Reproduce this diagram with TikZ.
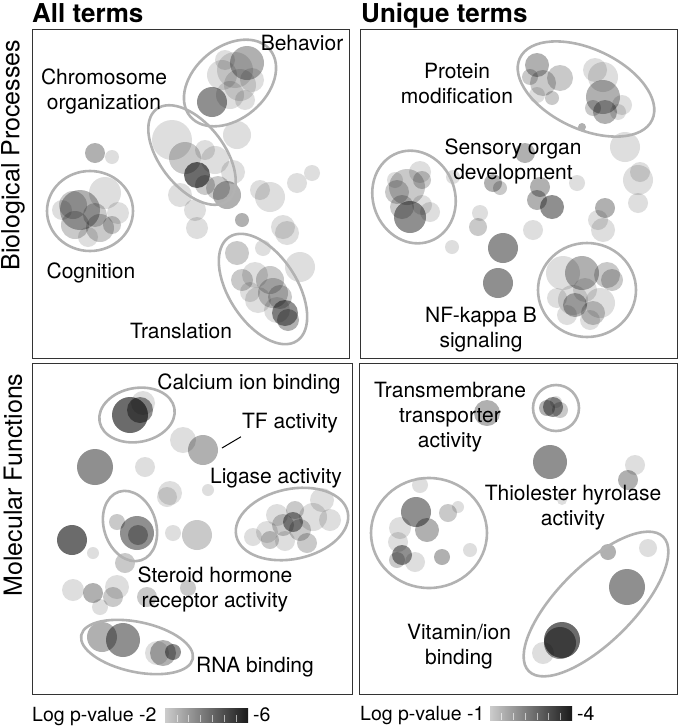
\documentclass[tikz,border=0pt]{standalone}
\usepackage{fontspec}
\setmainfont{TeX Gyre Heros}
\begin{document}
\begin{tikzpicture}[x=1pt,y=-1pt,
  Lone/.style={fill=black,fill opacity=.13},
  Ltwo/.style={fill=black,fill opacity=.21},
  Lthree/.style={fill=black,fill opacity=.31},
  Lfour/.style={fill=black,fill opacity=.44},
  Lfive/.style={fill=black,fill opacity=.58},
  ell/.style={draw=black!30,line width=2.6pt},
  panel/.style={draw=black!80,line width=1pt},
  lbl/.style={font=\fontsize{21}{25}\selectfont,inner sep=0pt,align=center},
  ttl/.style={font=\fontsize{26}{30}\selectfont\bfseries,inner sep=0pt,anchor=base west},
  row/.style={font=\fontsize{25}{30}\selectfont,inner sep=0pt,rotate=90},
  leg/.style={font=\fontsize{19.5}{24}\selectfont,inner sep=0pt,anchor=base west}]
\newcommand\bub[4]{\fill[#4] (#1,#2) circle[radius=#3pt];}
\useasboundingbox (0,0) rectangle (680,726);
% ---------------- Panel TL ----------------
% Behavior
\bub{247}{63}{17}{Lthree}\bub{235}{70}{18}{Lone}\bub{222}{75}{15}{Lone}
\bub{240}{85}{16}{Lone}\bub{252}{80}{12}{Lone}\bub{230}{95}{14}{Lone}
\bub{212}{102}{15}{Lfour}\bub{245}{100}{10}{Lone}\bub{225}{60}{10}{Lone}
% Chromosome
\bub{172}{140}{20}{Lone}\bub{185}{158}{16}{Ltwo}\bub{197}{175}{13}{Lfive}
\bub{215}{160}{14}{Lone}\bub{205}{150}{10}{Lone}\bub{227}{195}{14}{Lthree}
\bub{218}{188}{12}{Ltwo}\bub{205}{185}{10}{Ltwo}\bub{180}{195}{12}{Lone}
\bub{195}{210}{11}{Lone}\bub{197}{228}{11}{Lone}
\bub{237}{135}{14}{Lone}\bub{233}{172}{12}{Lone}
\bub{270}{197}{15}{Lone}\bub{260}{190}{10}{Lone}\bub{297}{183}{10}{Lone}
\bub{312}{173}{8}{Lone}\bub{242}{220}{7}{Lthree}\bub{283}{227}{12}{Lone}
% Cognition
\bub{95}{153}{10}{Lthree}\bub{112}{157}{7}{Lone}
\bub{80}{210}{20}{Lthree}\bub{73}{205}{14}{Ltwo}\bub{105}{193}{16}{Lone}
\bub{75}{225}{14}{Ltwo}\bub{100}{228}{14}{Ltwo}\bub{95}{215}{12}{Ltwo}
\bub{118}{213}{11}{Lone}\bub{62}{210}{10}{Lone}\bub{88}{237}{10}{Lone}
\bub{112}{225}{9}{Ltwo}
% Translation
\bub{237}{253}{12}{Ltwo}\bub{263}{248}{8}{Lone}\bub{300}{267}{15}{Lone}
\bub{287}{233}{12}{Lone}\bub{242}{280}{11}{Ltwo}\bub{255}{275}{13}{Lone}
\bub{270}{280}{14}{Ltwo}\bub{273}{293}{15}{Ltwo}\bub{258}{300}{13}{Lone}
\bub{285}{313}{13}{Lfour}\bub{288}{320}{11}{Lthree}\bub{277}{310}{13}{Lone}
\bub{250}{292}{10}{Lone}\bub{280}{297}{12}{Ltwo}
\draw[ell,rotate around={40:(230,83)}] (230,83) ellipse[x radius=52pt,y radius=36pt];
\draw[ell,rotate around={-52:(192,155)}] (192,155) ellipse[x radius=58pt,y radius=32pt];
\draw[ell] (90,211) ellipse[x radius=43pt,y radius=40pt];
\draw[ell,rotate around={-57:(263,289)}] (263,289) ellipse[x radius=62pt,y radius=34pt];
% ---------------- Panel TR ----------------
\bub{537}{65}{12}{Lthree}\bub{530}{77}{8}{Ltwo}\bub{543}{83}{13}{Ltwo}
\bub{560}{78}{13}{Ltwo}\bub{537}{95}{8}{Lone}\bub{552}{98}{7}{Ltwo}
\bub{603}{77}{15}{Lone}\bub{595}{70}{12}{Lone}\bub{603}{97}{17}{Lthree}
\bub{605}{112}{12}{Lthree}\bub{622}{105}{10}{Lone}\bub{618}{112}{8}{Lone}
\bub{582}{127}{4}{Lthree}\bub{593}{108}{8}{Ltwo}
% Sensory
\bub{407}{187}{18}{Ltwo}\bub{420}{172}{11}{Lone}\bub{422}{180}{9}{Ltwo}
\bub{397}{192}{12}{Ltwo}\bub{410}{217}{16}{Lfour}\bub{402}{207}{12}{Ltwo}
\bub{422}{205}{10}{Lone}\bub{430}{212}{10}{Lone}\bub{395}{180}{8}{Lone}
% scattered
\bub{525}{153}{10}{Lthree}\bub{493}{183}{9}{Lthree}\bub{500}{188}{7}{Ltwo}
\bub{540}{187}{10}{Lthree}\bub{537}{200}{10}{Lthree}\bub{552}{207}{12}{Lfour}
\bub{577}{183}{8}{Lone}\bub{480}{213}{8}{Lone}\bub{478}{227}{9}{Ltwo}
\bub{533}{230}{10}{Lone}\bub{605}{208}{10}{Lthree}\bub{603}{230}{12}{Lone}
\bub{598}{220}{10}{Lone}\bub{625}{147}{15}{Lone}\bub{638}{180}{15}{Lone}
\bub{640}{172}{10}{Lone}\bub{638}{203}{10}{Lone}\bub{452}{247}{7}{Lone}
\bub{503}{248}{15}{Lfour}\bub{498}{283}{15}{Lfour}\bub{453}{177}{7}{Lone}
% NF-kappa B
\bub{563}{273}{17}{Lone}\bub{582}{273}{17}{Lthree}\bub{607}{275}{13}{Ltwo}
\bub{612}{280}{11}{Ltwo}\bub{573}{300}{15}{Lone}\bub{575}{305}{12}{Lthree}
\bub{600}{303}{15}{Lone}\bub{593}{313}{12}{Ltwo}\bub{567}{315}{10}{Lone}
\bub{590}{320}{10}{Lone}\bub{557}{298}{10}{Lone}\bub{585}{290}{12}{Lone}
\draw[ell,rotate around={-25:(586,89)}] (586,89) ellipse[x radius=73pt,y radius=40pt];
\draw[ell,rotate around={-70:(414,197)}] (414,197) ellipse[x radius=47pt,y radius=41pt];
\draw[ell] (587,290) ellipse[x radius=49pt,y radius=47pt];
% ---------------- Panel BL ----------------
\bub{130}{415}{18}{Lfive}\bub{140}{410}{13}{Lfour}\bub{143}{403}{12}{Lone}
\bub{183}{440}{13}{Lone}\bub{203}{450}{15}{Lthree}\bub{95}{467}{18}{Lfour}
\bub{145}{467}{10}{Lone}\bub{208}{490}{6}{Lone}\bub{170}{493}{12}{Lone}
\bub{167}{497}{10}{Lone}
\bub{137}{533}{17}{Lfour}\bub{138}{535}{10}{Lthree}\bub{117}{522}{8}{Ltwo}
\bub{125}{563}{10}{Ltwo}\bub{72}{540}{15}{Lfive}\bub{93}{553}{6}{Lone}
\bub{173}{533}{8}{Lone}\bub{197}{535}{15}{Ltwo}
\bub{73}{590}{11}{Lone}\bub{93}{593}{10}{Lthree}\bub{117}{587}{12}{Lone}
\bub{113}{597}{10}{Ltwo}\bub{100}{607}{8}{Lone}\bub{147}{597}{10}{Ltwo}
\bub{188}{588}{8}{Ltwo}
\bub{102}{637}{15}{Lthree}\bub{123}{640}{17}{Lfour}\bub{157}{653}{12}{Lone}
\bub{163}{653}{13}{Lthree}\bub{173}{652}{8}{Lfour}
\bub{253}{537}{9}{Lone}\bub{267}{532}{11}{Lone}\bub{277}{515}{11}{Lone}
\bub{283}{525}{11}{Ltwo}\bub{293}{522}{10}{Lfour}\bub{300}{530}{11}{Ltwo}
\bub{313}{517}{14}{Lone}\bub{322}{500}{12}{Lone}\bub{307}{543}{10}{Ltwo}
\bub{285}{541}{10}{Lone}\bub{270}{540}{9}{Ltwo}\bub{330}{520}{11}{Lone}
\bub{295}{510}{9}{Ltwo}
\draw[ell,rotate around={10:(137,415)}] (137,415) ellipse[x radius=38pt,y radius=27pt];
\draw[ell,rotate around={-72:(130,526)}] (130,526) ellipse[x radius=36pt,y radius=26pt];
\draw[ell,rotate around={12:(292,524)}] (292,524) ellipse[x radius=57pt,y radius=35pt];
\draw[ell,rotate around={-12:(137,647)}] (137,647) ellipse[x radius=57pt,y radius=25pt];
% ---------------- Panel BR ----------------
\bub{487}{413}{13}{Lthree}\bub{553}{407}{10}{Lfour}\bub{547}{408}{8}{Lthree}
\bub{560}{410}{8}{Ltwo}\bub{556}{402}{6}{Lone}\bub{550}{462}{17}{Lfour}
\bub{635}{465}{10}{Lone}\bub{628}{480}{10}{Lthree}\bub{562}{500}{5}{Lone}
\bub{420}{485}{8}{Lone}\bub{416}{512}{15}{Lfour}\bub{427}{530}{12}{Lthree}
\bub{448}{513}{9}{Ltwo}\bub{458}{507}{6}{Lone}\bub{400}{528}{11}{Lone}
\bub{398}{542}{10}{Lone}\bub{402}{555}{10}{Lfour}\bub{415}{562}{10}{Lone}
\bub{397}{560}{8}{Ltwo}\bub{442}{557}{8}{Lthree}\bub{470}{550}{7}{Lone}
\bub{608}{552}{8}{Lthree}\bub{648}{548}{9}{Lone}\bub{627}{587}{18}{Lfour}
\bub{562}{640}{18}{Lfive}\bub{560}{643}{16}{Lfour}\bub{543}{653}{11}{Lone}
\draw[ell] (556,408) circle[radius=23pt];
\draw[ell] (429,533) ellipse[x radius=58pt,y radius=55pt];
\draw[ell,rotate around={45:(596,604)}] (596,604) ellipse[x radius=95pt,y radius=38pt];
% ---------------- frames ----------------
\draw[panel] (32,29) rectangle (349,358);
\draw[panel] (360,29) rectangle (677,358);
\draw[panel] (32,363) rectangle (352,694);
\draw[panel] (359,363) rectangle (677,694);
% ---------------- titles ----------------
\node[ttl] (tall) at (32,22) {All terms};
\node[ttl] (tuni) at (361,22) {Unique terms};
\node[row] (rbp) at (13,155) {Biological Processes};
\node[row] (rmf) at (13,485) {Molecular Functions};
% ---------------- labels ----------------
\node[lbl,anchor=base] (behav) at (302,50) {Behavior};
\node[lbl] (chrom) at (104,91) {Chromosome\\organization};
\node[lbl,anchor=base] (cogn) at (91,278) {Cognition};
\node[lbl,anchor=base] (trans) at (181,338) {Translation};
\node[lbl] (prot) at (457,83) {Protein\\modification};
\node[lbl] (sens) at (513,161) {Sensory organ\\development};
\node[lbl] (nfkb) at (481,330) {NF-kappa B\\signaling};
\node[lbl,anchor=base] (calc) at (249,389) {Calcium ion binding};
\node[lbl,anchor=base] (tf) at (290,428) {TF activity};
\node[lbl,anchor=base] (lig) at (276,483) {Ligase activity};
\node[lbl] (ster) at (215,589) {Steroid hormone\\receptor activity};
\node[lbl,anchor=base] (rna) at (255,672) {RNA binding};
\node[lbl] (tmem) at (450,417) {Transmembrane\\transporter\\activity};
\node[lbl] (thio) at (573,508) {Thiolester hyrolase\\activity};
\node[lbl] (vita) at (459,647) {Vitamin/ion\\binding};
\coordinate (tfdot) at (222,448);
\draw[line width=1pt] (tfdot) -- ([shift={(-1,4)}]tf.south west);
% ---------------- legends ----------------
\node[leg] (leg1) at (32,721) {Log p-value -2};
\shade[left color=black!20,right color=black!90] (165,708) rectangle (248,722);
\foreach \k in {1,...,6}{\draw[white,opacity=.6,line width=.6pt] ({165+83*\k/7},715) -- ({165+83*\k/7},722);}
\node[leg] (leg1b) at (253,721) {-6};
\node[leg] (leg2) at (360,720) {Log p-value -1};
\shade[left color=black!20,right color=black!90] (490,706) rectangle (572,720);
\foreach \k in {1,...,6}{\draw[white,opacity=.6,line width=.6pt] ({490+82*\k/7},713) -- ({490+82*\k/7},720);}
\node[leg] (leg2b) at (577,720) {-4};
\end{tikzpicture}
\end{document}
